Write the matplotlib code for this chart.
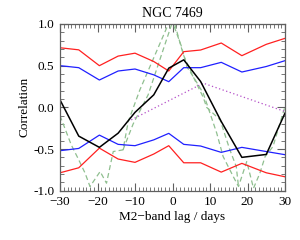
import matplotlib
matplotlib.use("Agg")
import matplotlib.pyplot as plt
from matplotlib.ticker import MultipleLocator

# ---- data ----
lags = [-30, -25, -19.5, -14.5, -10, -5, -1, 3, 7.5, 13, 18.5, 25, 30]
ccf = [0.09, -0.345, -0.48, -0.31, -0.06, 0.15, 0.47, 0.57, 0.31, -0.17, -0.60, -0.565, -0.07]
upper99 = [0.715, 0.69, 0.50, 0.615, 0.65, 0.55, 0.436, 0.668, 0.688, 0.772, 0.62, 0.756, 0.828]
upper95 = [0.50, 0.476, 0.328, 0.436, 0.46, 0.39, 0.308, 0.476, 0.476, 0.54, 0.424, 0.49, 0.56]
lower95 = [-0.52, -0.493, -0.333, -0.444, -0.46, -0.39, -0.312, -0.444, -0.464, -0.54, -0.48, -0.53, -0.568]
lower99 = [-0.785, -0.725, -0.489, -0.62, -0.66, -0.56, -0.46, -0.665, -0.665, -0.777, -0.672, -0.785, -0.833]

fit_lag = [-11, 8.2, 30]
fit_val = [-0.15, 0.29, -0.05]

acf1_lag = [-30, -27, -25, -23.3, -22, -19.3, -17.6, -15.8, -13.2, -11.8, -8.7, -1.1,
            0.2, 2.4, 3.8, 5.5, 8.2, 10, 11.8, 13.5, 16.2, 17.6, 19.8, 21.6, 23.3, 24.7, 26.8, 30]
acf1_val = [-0.1, -0.45, -0.63, -0.79, -0.95, -0.77, -0.91, -0.53, -0.51, -0.17, 0.21, 1.0,
            1.0, 0.73, 0.49, 0.37, 0.17, -0.07, -0.31, -0.59, -0.83, -0.95, -0.65, -0.97, -0.79, -0.59, -0.47, 0.01]
acf2_lag = [-13.2, -10.5, -6.5, -0.2, 0.6, 2.9, 5.5, 8.2, 9.1, 12.7, 15.3, 17.0, 17.6]
acf2_val = [-0.51, -0.2, 0.15, 1.0, 1.0, 0.63, 0.37, 0.12, 0.0, -0.15, -0.51, -0.71, -0.95]

title = "NGC 7469"
xlabel = "M2\u2212band lag / days"
ylabel = "Correlation"

# ---- figure ----
plt.rcParams['font.family'] = ['Liberation Serif', 'DejaVu Serif']
plt.rcParams['axes.unicode_minus'] = True
fig = plt.figure(figsize=(3.0, 2.4), dpi=100)
ax = fig.add_axes([0.20, 0.2054, 0.75, 0.6946])

lw = 0.9
ax.plot(acf1_lag, acf1_val, color='#8fbf8f', lw=lw, ls=(0, (4, 2.5)))
ax.plot(acf2_lag, acf2_val, color='#8fbf8f', lw=lw, ls=(0, (4, 2.5)))
ax.plot(fit_lag, fit_val, color='#b44fc8', lw=lw, ls=(0, (1, 2)))
ax.plot(lags, upper99, color='#ff2020', lw=lw)
ax.plot(lags, lower99, color='#ff2020', lw=lw)
ax.plot(lags, upper95, color='#2020ff', lw=lw)
ax.plot(lags, lower95, color='#2020ff', lw=lw)
ax.plot(lags, ccf, color='black', lw=1.1)

ax.set_xlim(-30, 30)
ax.set_ylim(-1.0, 1.0)
ax.xaxis.set_major_locator(MultipleLocator(10))
ax.xaxis.set_minor_locator(MultipleLocator(1))
ax.yaxis.set_major_locator(MultipleLocator(0.5))
ax.yaxis.set_minor_locator(MultipleLocator(0.1))
ax.yaxis.set_major_formatter(matplotlib.ticker.FormatStrFormatter('%.1f'))

frame_col = '#606060'
for s in ax.spines.values():
    s.set_color(frame_col)
    s.set_linewidth(0.9)
ax.tick_params(which='both', direction='in', top=True, right=True, color=frame_col,
               labelsize=9.5, labelcolor='black', pad=4)
ax.tick_params(which='major', length=6, width=0.8)
ax.tick_params(which='minor', length=3, width=0.6)

ax.set_title(title, fontsize=10, pad=5)
ax.set_xlabel(xlabel, fontsize=9.5, labelpad=2)
ax.set_ylabel(ylabel, fontsize=9.5, labelpad=2)

fig.savefig('out.png', dpi=100)
